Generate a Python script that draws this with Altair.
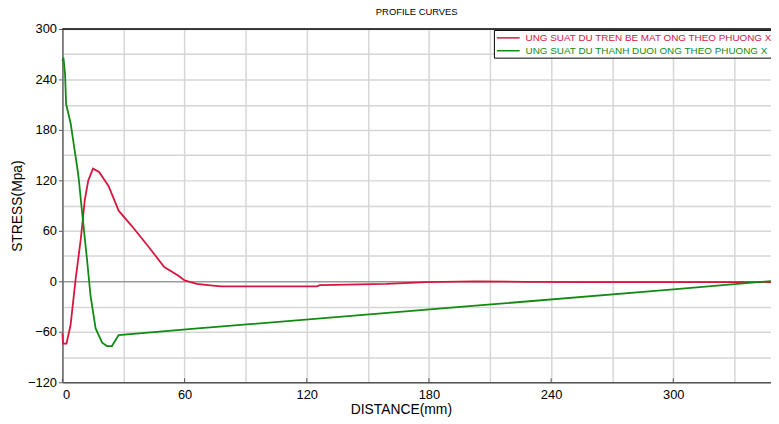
import altair as alt
import pandas as pd

red_name = "UNG SUAT DU TREN BE MAT ONG THEO PHUONG X"
green_name = "UNG SUAT DU THANH DUOI ONG THEO PHUONG X"

red_x = [0, 0.3, 2, 4, 6.5, 9, 11, 12.7, 15, 18, 22.7, 27.6, 34, 42, 50, 56.8, 60, 66, 71.4, 78,
         125, 126.5, 159, 178.6, 203, 227, 257, 348]
red_y = [-62, -74, -74, -52, 3, 50, 97, 120, 134, 130, 113, 84, 66, 42, 17, 7, 1, -3, -4.5, -6,
         -6, -4.5, -3, -1, 0, -0.6, -0.9, -1]

green_x = [0, 0.5, 1.3, 1.8, 4.1, 5, 7.3, 8.1, 9.7, 12.2, 13.8, 16.3, 19.5, 21.9, 24.3, 27.6,
           66.5, 202.8, 300, 348]
green_y = [262, 266, 246, 211, 187, 172, 135, 120, 81, 23, -17, -56, -73, -77, -77, -64,
           -56, -29, -9.5, 0.3]

x_grid = list(range(0, 361, 30))
y_grid = list(range(-120, 301, 30))
x_major = list(range(0, 361, 60))

rows = []
for i, (a, b) in enumerate(zip(red_x, red_y)):
    rows.append({"x": a, "y": b, "series": red_name, "order": i})
for i, (a, b) in enumerate(zip(green_x, green_y)):
    rows.append({"x": a, "y": b, "series": green_name, "order": i})
df = pd.DataFrame(rows)

W, H = 716, 357
FONT = "Liberation Sans"
RED = "#d6163e"
GREEN = "#138a13"

xs = alt.Scale(domain=[0, 348], nice=False, zero=False)
ys = alt.Scale(domain=[-120, 300], nice=False, zero=False)

xaxis = alt.Axis(
    values=x_grid, grid=True,
    gridColor="#d6d6d6", gridWidth=1.5,
    labelExpr="datum.value % 60 == 0 ? datum.label : ''",
    tickSize=0, labelPadding=6,
    labelFont=FONT, labelFontSize=13, labelColor="black",
    domainColor="#555555", domainWidth=1.7,
    titleFont=FONT, titleFontSize=14, titleFontWeight="normal", titleColor="black",
    titleX=342, titleY=21, titleBaseline="top",
)
yaxis = alt.Axis(
    values=y_grid, grid=True,
    gridColor={"expr": "datum.value == 0 ? '#9a9a9a' : '#d6d6d6'"}, gridWidth=1.5,
    labelExpr="datum.value % 60 == 0 ? datum.label : ''",
    tickSize=4, tickColor="#555555",
    tickOpacity={"expr": "datum.value % 60 == 0 ? 1 : 0"},
    labelPadding=2,
    labelFont=FONT, labelFontSize=13, labelColor="black",
    domainColor="#666666", domainWidth=1.5,
    titleFont=FONT, titleFontSize=14, titleFontWeight="normal", titleColor="black",
    titleX=-38, titleBaseline="bottom",
)

X = alt.X("x:Q", scale=xs, axis=xaxis, title="DISTANCE(mm)")
Y = alt.Y("y:Q", scale=ys, axis=yaxis, title="STRESS(Mpa)")

lines = alt.Chart(df).mark_line(strokeWidth=1.8).encode(
    x=X, y=Y,
    color=alt.Color(
        "series:N",
        scale=alt.Scale(domain=[red_name, green_name], range=[RED, GREEN]),
        legend=alt.Legend(
            orient="none", legendX=436, legendY=1, title=None,
            strokeColor="black", fillColor="white", padding=2,
            symbolType="M-1,0H3.6", symbolSize=100, symbolStrokeWidth=1.5,
            labelOffset=18, rowPadding=2,
            labelFont=FONT, labelFontSize=10, labelLimit=500,
            labelColor={"expr": "datum.label == '" + red_name + "' ? '" + RED + "' : '" + GREEN + "'"},
        ),
    ),
    order="order:Q",
)

border = alt.Chart(pd.DataFrame({"y": [300]})).mark_rule(color="black", strokeWidth=1.5).encode(y=Y)

xticks = alt.Chart(pd.DataFrame({"x": x_major})).mark_rule(color="#555555", strokeWidth=1).encode(
    x=X, y=alt.value(H - 4), y2=alt.value(H)
)

chart = alt.layer(lines, border, xticks).properties(
    width=W, height=H,
    title=alt.TitleParams("PROFILE CURVES", font=FONT, fontSize=9.5, fontWeight="normal",
                          color="black", anchor="middle", baseline="alphabetic", offset=1, dy=2),
    padding={"left": 55, "top": 19, "right": 0, "bottom": 40},
    autosize=alt.AutoSizeParams(type="none"),
).configure_view(strokeWidth=0).configure(background="white")

chart.save("out.html", embed_options={"renderer": "svg", "actions": False})
